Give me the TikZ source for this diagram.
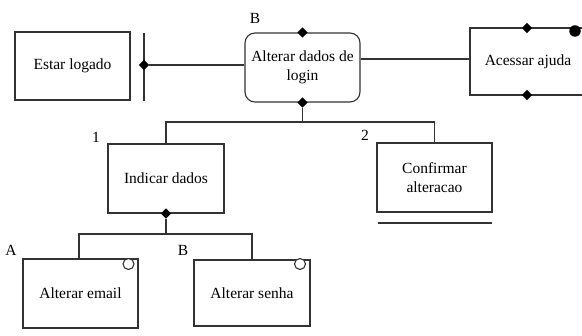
\documentclass[tikz,border=0pt]{standalone}
\usepackage{fontspec}
\setmainfont{Liberation Serif}
\usetikzlibrary{shapes.geometric}
\begin{document}
\begin{tikzpicture}[x=1pt,y=-1pt,
  every node/.style={font=\fontsize{15.5}{19.5}\selectfont, inner sep=0pt},
  line/.style={line width=1.1pt, draw=black!80},
  task/.style={line, rectangle, align=center, fill=white},
  joint/.style={diamond, fill=black, minimum size=10.5pt, inner sep=0pt},
  optmark/.style={circle, draw=black!80, line width=1.1pt, fill=white, minimum size=11pt},
  tag/.style={anchor=center}]
\useasboundingbox (0,0) rectangle (582,336);

% main tasks
\node[task, minimum width=115pt, minimum height=68pt] (estar) at (72.5,66) {Estar logado};
\node[task, rounded corners=10pt, minimum width=115pt, minimum height=69pt] (alterar) at (302.5,67.5) {Alterar dados de\\login};
\node[align=center] (acessar) at (528,61.5) {Acessar ajuda};

% frame of the help task, running off to the right
\coordinate (acTL) at (470,28);
\coordinate (acBL) at (470,95);
\draw[line] (610,28) -- (acTL) -- (acBL) -- (610,95);
\node[joint] (acTop) at (527,28) {};
\node[joint] (acBot) at (527,95) {};
\node[circle, fill=black, minimum size=11.5pt] (acDot) at (575,31) {};

% precondition bar
\coordinate (barT) at (144,33);
\coordinate (barB) at (144,101);
\draw[line] (barT) -- (barB);
\node[joint] (barJ) at (144,65) {};
\draw[line] (barJ) -- (alterar.west |- barJ);

% link to help
\coordinate (acL) at (470,59);
\draw[line] (alterar.east |- acL) -- (acL);

% joints on the main task
\node[joint] (altTop) at (alterar.north) {};
\node[joint] (altBot) at (alterar.south) {};
\node[tag] (tagB1) at (255,18) {B};

% subtasks
\node[task, minimum width=116pt, minimum height=69pt] (indicar) at (166,178.5) {Indicar dados};
\node[task, minimum width=115pt, minimum height=69pt] (confirmar) at (434.5,177.5) {Confirmar\\alteracao};
\node[tag] (tag1) at (96,137) {1};
\node[tag] (tag2) at (365,135) {2};
\coordinate (confU1) at (378,223);
\coordinate (confU2) at (492,223);
\draw[line] (confU1) -- (confU2);

\coordinate (split1) at (302.5,122);
\draw[line] (altBot) -- (split1);
\draw[line] (indicar.north) |- (split1) -| (confirmar.north);

% leaf tasks
\node[task, minimum width=115pt, minimum height=69pt] (email) at (80.5,293.5) {Alterar email};
\node[task, minimum width=116pt, minimum height=66pt] (senha) at (252,293) {Alterar senha};
\node[tag] (tagA) at (11,250) {A};
\node[tag] (tagB2) at (183,250) {B};
\node[optmark] (emailO) at (128.5,264) {};
\node[optmark] (senhaO) at (300,264) {};

\node[joint] (indBot) at (indicar.south) {};
\coordinate (split2) at (166,234);
\draw[line] (indBot) -- (split2);
\draw[line] (79,259) |- (split2) -| (senha.north);
\end{tikzpicture}
\end{document}
